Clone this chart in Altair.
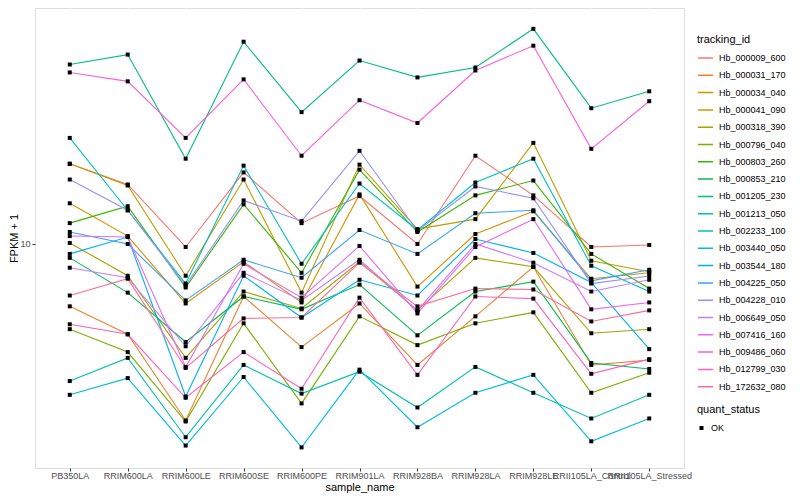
import altair as alt
import pandas as pd

samples = ["PB350LA", "RRIM600LA", "RRIM600LE", "RRIM600SE", "RRIM600PE", "RRIM901LA",
           "RRIM928BA", "RRIM928LA", "RRIM928LE", "RRII105LA_Control", "RRII105LA_Stressed"]

tracking_ids = ["Hb_000009_600", "Hb_000031_170", "Hb_000034_040", "Hb_000041_090", "Hb_000318_390",
                "Hb_000796_040", "Hb_000803_260", "Hb_000853_210", "Hb_001205_230", "Hb_001213_050",
                "Hb_002233_100", "Hb_003440_050", "Hb_003544_180", "Hb_004225_050", "Hb_004228_010",
                "Hb_006649_050", "Hb_007416_160", "Hb_009486_060", "Hb_012799_030", "Hb_172632_080"]

colors = ["#F8766D", "#EA8331", "#D89000", "#C09B00", "#A3A500", "#7CAE00", "#39B600", "#00BB4E",
          "#00BF7D", "#00C1A3", "#00BFC4", "#00BAE0", "#00B0F6", "#35A2FF", "#9590FF", "#C77CFF",
          "#E76BF3", "#FA62DB", "#FF62BC", "#FF6C91"]

# FPKM + 1 per sample (same order as samples)
hb_000009_600 = [18.6, 15.85, 9.77, 17.4, 11.75, 14.5, 10.0, 19.8, 14.57, 9.77, 9.92]
hb_000031_170 = [6.17, 4.97, 2.55, 6.66, 4.50, 6.31, 3.92, 5.71, 8.38, 3.92, 4.07]
hb_000034_040 = [13.7, 10.63, 6.31, 8.71, 6.36, 14.68, 7.19, 10.8, 12.88, 7.64, 8.0]
hb_000041_090 = [18.6, 15.73, 7.82, 16.47, 6.86, 18.48, 11.22, 12.12, 21.88, 8.78, 8.06]
hb_000318_390 = [10.08, 7.82, 4.14, 6.92, 6.07, 8.71, 5.98, 8.98, 8.38, 5.01, 5.17]
hb_000796_040 = [5.17, 4.33, 2.53, 5.41, 2.91, 5.71, 4.57, 5.41, 5.89, 3.16, 3.69]
hb_000803_260 = [11.75, 13.39, 7.14, 13.59, 8.0, 17.78, 10.97, 14.57, 16.34, 9.26, 7.08]
hb_000853_210 = [8.98, 6.86, 4.68, 6.66, 6.03, 7.30, 4.93, 6.92, 7.47, 3.98, 3.80]
hb_001205_230 = [40.12, 43.32, 19.35, 47.87, 27.75, 41.37, 36.31, 39.2, 52.88, 28.61, 32.61]
hb_001213_050 = [3.46, 4.14, 2.24, 3.92, 3.14, 3.72, 2.82, 3.86, 3.16, 2.59, 3.11]
hb_002233_100 = [22.73, 12.98, 7.36, 18.34, 8.58, 15.97, 11.14, 16.09, 19.35, 8.45, 6.92]
hb_003440_050 = [3.11, 3.54, 2.10, 3.57, 2.07, 3.78, 2.42, 3.16, 3.63, 2.17, 2.59]
hb_003544_180 = [9.26, 10.55, 3.07, 7.82, 5.66, 7.58, 6.71, 10.39, 9.33, 7.42, 4.43]
hb_004225_050 = [10.97, 10.0, 6.46, 8.85, 7.70, 11.14, 9.26, 12.69, 12.98, 7.52, 8.19]
hb_004228_010 = [16.47, 12.98, 7.25, 14.01, 11.93, 20.57, 11.05, 15.61, 14.24, 7.36, 7.8]
hb_006649_050 = [8.32, 7.70, 4.53, 8.0, 6.46, 8.85, 5.98, 10.0, 8.65, 6.92, 7.58]
hb_007416_160 = [10.63, 10.55, 3.86, 8.58, 6.60, 9.85, 5.84, 9.77, 12.12, 6.03, 6.36]
hb_009486_060 = [37.73, 35.22, 22.73, 35.76, 19.8, 30.43, 25.51, 38.31, 46.42, 20.89, 30.2]
hb_012799_030 = [5.37, 4.97, 3.04, 4.33, 3.26, 6.60, 3.63, 6.66, 6.55, 3.66, 4.10]
hb_172632_080 = [6.71, 7.64, 3.83, 5.62, 5.66, 8.65, 6.17, 7.08, 7.03, 5.49, 5.98]

series = [hb_000009_600, hb_000031_170, hb_000034_040, hb_000041_090, hb_000318_390,
          hb_000796_040, hb_000803_260, hb_000853_210, hb_001205_230, hb_001213_050,
          hb_002233_100, hb_003440_050, hb_003544_180, hb_004225_050, hb_004228_010,
          hb_006649_050, hb_007416_160, hb_009486_060, hb_012799_030, hb_172632_080]

rows = []
for tid, vals in zip(tracking_ids, series):
    for s, v in zip(samples, vals):
        rows.append({"tracking_id": tid, "sample_name": s, "fpkm": v, "quant_status": "OK"})
df = pd.DataFrame(rows)

FONT = "Liberation Sans"

x_enc = alt.X("sample_name:N", sort=samples, title="sample_name",
              scale=alt.Scale(type="point", padding=0.6),
              axis=alt.Axis(labelAngle=0, labelOverlap=False, labelFontSize=9, labelColor="#4D4D4D",
                            tickColor="#333333", tickSize=3, domain=False, grid=True,
                            gridColor="white", gridWidth=1.1, titleFontSize=11, titleColor="black",
                            titleFontWeight="normal", labelPadding=0,
                            titleY=19, titleBaseline="middle"))
y_enc = alt.Y("fpkm:Q", title="FPKM + 1",
              scale=alt.Scale(type="log", domain=[1.765, 62.14], nice=False, zero=False),
              axis=alt.Axis(values=[10], format="d", labelFontSize=9, labelColor="#4D4D4D",
                            tickColor="#333333", tickSize=3, domain=False, grid=True,
                            gridColor="white", gridWidth=1.1, titleFontSize=11, titleColor="black",
                            titleFontWeight="normal", labelPadding=2,
                            titleX=-21, titleY=230, titleBaseline="middle", titleAngle=270))

lines = alt.Chart(df).mark_line(strokeWidth=1.1).encode(
    x=x_enc, y=y_enc,
    color=alt.Color("tracking_id:N", scale=alt.Scale(domain=tracking_ids, range=colors),
                    legend=alt.Legend(title="tracking_id", orient="none", legendX=662, legendY=26,
                                      symbolType="stroke", symbolSize=230, symbolStrokeWidth=1.5,
                                      labelFontSize=9, titleFontSize=11, titleFontWeight="normal",
                                      titleColor="black", labelColor="black", clipHeight=14,
                                      rowPadding=3.3, titlePadding=6, labelOffset=5)),
    detail="tracking_id:N",
)

points = alt.Chart(df).mark_point(filled=True, size=16, opacity=1, color="black").encode(
    x=alt.X("sample_name:N", sort=samples),
    y="fpkm:Q",
    shape=alt.Shape("quant_status:N", scale=alt.Scale(domain=["OK"], range=["square"]),
                    legend=alt.Legend(title="quant_status", orient="none", legendX=662, legendY=396,
                                      symbolFillColor="black", symbolStrokeColor="black", symbolSize=16,
                                      labelFontSize=9, titleFontSize=11, titleFontWeight="normal",
                                      titleColor="black", labelColor="black", clipHeight=14,
                                      titlePadding=6, labelOffset=5)),
)

chart = alt.layer(lines, points).properties(
    width=649, height=460,
    padding={"left": 27, "top": 0, "right": 108, "bottom": 25},
    autosize=alt.AutoSizeParams(type="none"),
).configure_view(fill="#EBEBEB", strokeWidth=0).configure(font=FONT)

chart.save("out.html", embed_options={"renderer": "svg", "actions": False})
